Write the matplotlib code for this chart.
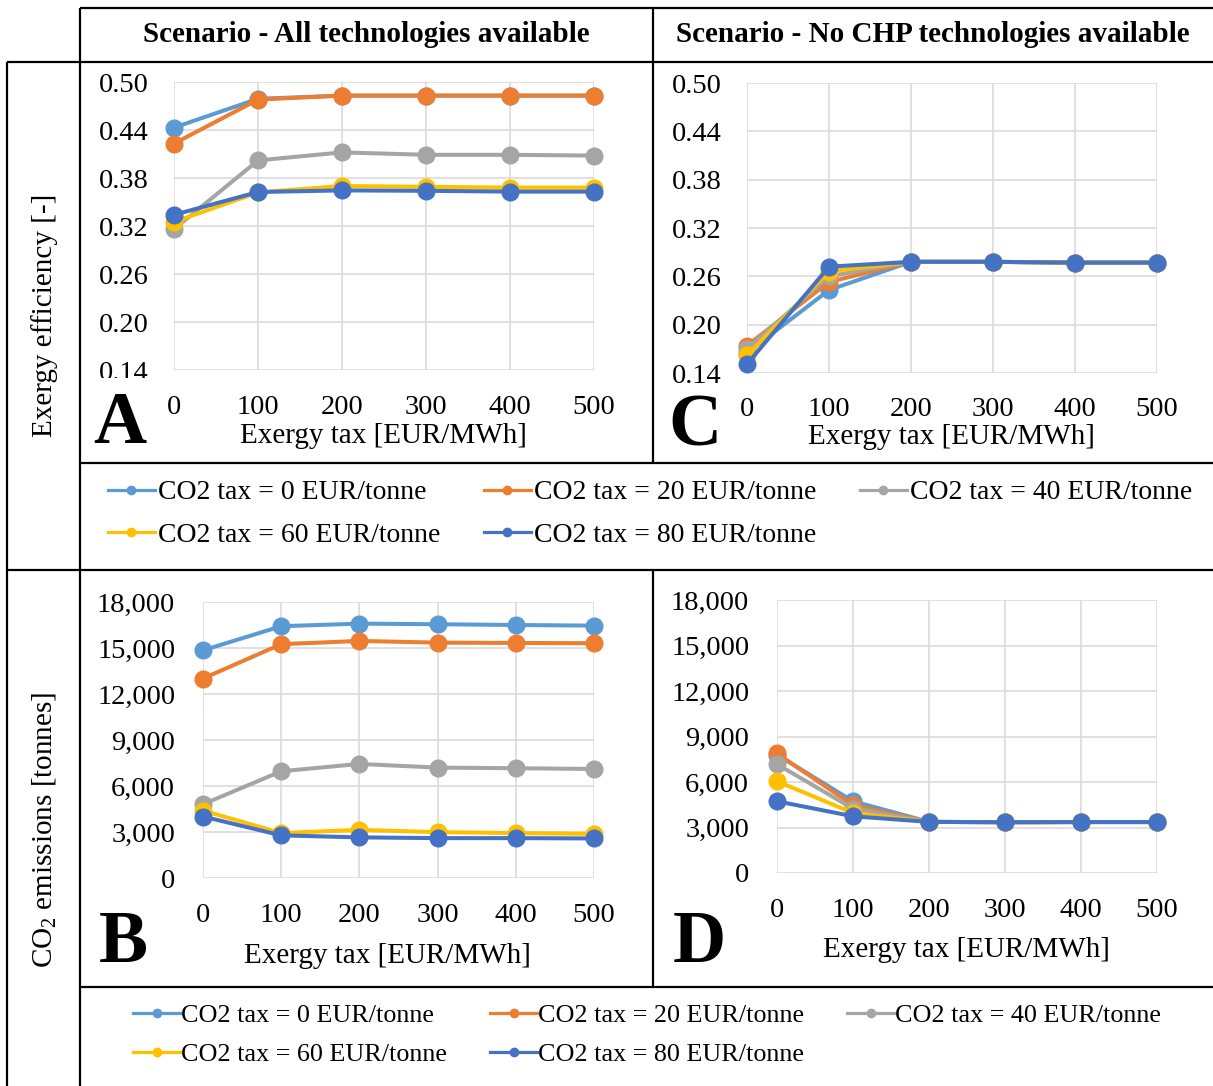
import matplotlib
matplotlib.use('Agg')
import matplotlib.pyplot as plt
from matplotlib.lines import Line2D
from matplotlib.ticker import FuncFormatter
from matplotlib.transforms import Bbox, TransformedBbox

plt.rcParams['font.family'] = ['Liberation Serif', 'DejaVu Serif']
plt.rcParams['mathtext.fontset'] = 'custom'
plt.rcParams['mathtext.rm'] = 'Liberation Serif'
plt.rcParams['mathtext.it'] = 'Liberation Serif:italic'

# ---------------- data ----------------
exergy_tax = [0, 100, 200, 300, 400, 500]
series_labels = ['CO2 tax = 0 EUR/tonne', 'CO2 tax = 20 EUR/tonne', 'CO2 tax = 40 EUR/tonne',
                 'CO2 tax = 60 EUR/tonne', 'CO2 tax = 80 EUR/tonne']
colors = ['#5B9BD5', '#ED7D31', '#A5A5A5', '#FFC000', '#4472C4']

# A: exergy efficiency, all technologies
eff_all_co2_0 = [0.443, 0.479, 0.483, 0.483, 0.483, 0.483]
eff_all_co2_20 = [0.423, 0.478, 0.483, 0.483, 0.483, 0.483]
eff_all_co2_40 = [0.316, 0.402, 0.412, 0.409, 0.409, 0.408]
eff_all_co2_60 = [0.325, 0.362, 0.370, 0.369, 0.368, 0.368]
eff_all_co2_80 = [0.334, 0.3625, 0.3645, 0.364, 0.363, 0.363]

# C: exergy efficiency, no CHP
eff_nochp_co2_0 = [0.165, 0.243, 0.278, 0.278, 0.277, 0.277]
eff_nochp_co2_20 = [0.174, 0.253, 0.278, 0.278, 0.277, 0.277]
eff_nochp_co2_40 = [0.170, 0.260, 0.278, 0.278, 0.277, 0.277]
eff_nochp_co2_60 = [0.162, 0.266, 0.278, 0.278, 0.277, 0.277]
eff_nochp_co2_80 = [0.151, 0.272, 0.278, 0.278, 0.277, 0.277]

# B: CO2 emissions, all technologies
em_all_co2_0 = [14850, 16420, 16590, 16550, 16500, 16460]
em_all_co2_20 = [13010, 15250, 15460, 15350, 15330, 15310]
em_all_co2_40 = [4810, 6960, 7440, 7200, 7160, 7110]
em_all_co2_60 = [4400, 2930, 3140, 2990, 2930, 2880]
em_all_co2_80 = [4010, 2780, 2650, 2600, 2600, 2580]

# D: CO2 emissions, no CHP
em_nochp_co2_0 = [7800, 4730, 3370, 3350, 3360, 3360]
em_nochp_co2_20 = [7880, 4470, 3370, 3350, 3360, 3360]
em_nochp_co2_40 = [7170, 4250, 3370, 3350, 3360, 3360]
em_nochp_co2_60 = [6050, 3960, 3370, 3350, 3360, 3360]
em_nochp_co2_80 = [4730, 3740, 3370, 3350, 3360, 3360]

eff_ticks = [0.14, 0.20, 0.26, 0.32, 0.38, 0.44, 0.50]
em_ticks = [0, 3000, 6000, 9000, 12000, 15000, 18000]

header_left = 'Scenario - All technologies available'
header_right = 'Scenario - No CHP technologies available'
xlabel_text = 'Exergy tax [EUR/MWh]'
ylabel_eff = 'Exergy efficiency [-]'
ylabel_em = r'CO$_\mathregular{2}$ emissions [tonnes]'

# ---------------- figure ----------------
W, H = 1213, 1086
fig = plt.figure(figsize=(W / 100, H / 100), dpi=100)
fig.patch.set_facecolor('white')


def fx(px):
    return px / W


def fy(py):
    return 1 - py / H


def make_ax(l, r, t, b):
    return fig.add_axes([fx(l), fy(b), (r - l) / W, (b - t) / H])


def style(ax, ylim, yticks, fmt, ypad, xpad):
    ax.set_xlim(0, 500)
    ax.set_xticks(exergy_tax)
    ax.set_ylim(*ylim)
    ax.set_yticks(yticks)
    ax.yaxis.set_major_formatter(FuncFormatter(fmt))
    ax.grid(True, color='#D9D9D9', lw=1.1)
    ax.set_axisbelow(True)
    for s in ax.spines.values():
        s.set_visible(False)
    ax.tick_params(axis='y', length=0, labelsize=20.5, pad=ypad)
    ax.tick_params(axis='x', length=0, labelsize=20.5, pad=xpad)


def draw_series(ax, data):
    lines = []
    for i, (ys, c) in enumerate(zip(data, colors)):
        ln, = ax.plot(exergy_tax, ys, color=c, lw=2.9, marker='o', ms=12,
                      clip_on=False, zorder=3 + i)
        lines.append(ln)
    return lines


eff_fmt = lambda v, p: f'{v:.2f}'
em_fmt = lambda v, p: f'{v:,.0f}'

axA = make_ax(174, 594, 82, 370)
style(axA, (0.14, 0.50), eff_ticks, eff_fmt, 18.5, 18)
draw_series(axA, [eff_all_co2_0, eff_all_co2_20, eff_all_co2_40, eff_all_co2_60, eff_all_co2_80])

axC = make_ax(747, 1157, 83, 373)
style(axC, (0.14, 0.50), eff_ticks, eff_fmt, 18, 17.5)
draw_series(axC, [eff_nochp_co2_0, eff_nochp_co2_20, eff_nochp_co2_40, eff_nochp_co2_60, eff_nochp_co2_80])

axB = make_ax(203, 594, 602, 878)
style(axB, (0, 18000), em_ticks, em_fmt, 20, 18)
draw_series(axB, [em_all_co2_0, em_all_co2_20, em_all_co2_40, em_all_co2_60, em_all_co2_80])

axD = make_ax(777, 1157, 600, 873)
style(axD, (0, 18000), em_ticks, em_fmt, 20, 18)
draw_series(axD, [em_nochp_co2_0, em_nochp_co2_20, em_nochp_co2_40, em_nochp_co2_60, em_nochp_co2_80])

# x labels (baseline placed)
for ax, (l, r, t, b), cx, base in [
        (axA, (174, 594, 82, 370), 383, 443),
        (axC, (747, 1157, 83, 373), 951, 444),
        (axB, (203, 594, 602, 878), 387, 963),
        (axD, (777, 1157, 600, 873), 966, 957)]:
    ax.set_xlabel(xlabel_text, fontsize=21, va='baseline', ha='center')
    ax.xaxis.set_label_coords((cx - l) / (r - l), (b - base) / (b - t))

# y labels in left column
fig.text(fx(52), fy(315), ylabel_eff, rotation=90, rotation_mode='anchor',
         ha='center', va='baseline', fontsize=21)
fig.text(fx(52), fy(830), ylabel_em, rotation=90, rotation_mode='anchor',
         ha='center', va='baseline', fontsize=21)

# headers
fig.text(fx(366), fy(42), header_left, ha='center', va='baseline', fontsize=21, fontweight='bold')
fig.text(fx(933), fy(42), header_right, ha='center', va='baseline', fontsize=21, fontweight='bold')

# panel letters
for letter, cx, base in [('A', 120, 443), ('C', 695, 446), ('B', 123, 962), ('D', 699, 962)]:
    fig.text(fx(cx), fy(base), letter, ha='center', va='baseline', fontsize=53, fontweight='bold')

# legends
handles = [Line2D([], [], color=c, lw=2.3, marker='o', ms=6) for c in colors]
order = [0, 3, 1, 4, 2]
hs = [handles[i] for i in order]
ls = [series_labels[i] for i in order]
fig.legend(hs, ls, ncol=3, loc='upper left', bbox_to_anchor=(fx(108), fy(480)),
           frameon=False, fontsize=20, handlelength=1.69, handletextpad=0.1,
           columnspacing=1.58, labelspacing=0.62, borderpad=0, borderaxespad=0)
fig.legend(hs, ls, ncol=3, loc='upper left', bbox_to_anchor=(fx(133), fy(1004)),
           frameon=False, fontsize=18.8, handlelength=1.8, handletextpad=0.05,
           columnspacing=1.64, labelspacing=0.61, borderpad=0, borderaxespad=0)

# table lines
tbl = dict(color='black', lw=1.6, transform=fig.transFigure, solid_capstyle='butt')
segments = [
    ((80, 1213), (7.5, 7.5)),
    ((7, 1213), (61.5, 61.5)),
    ((80, 1213), (463, 463)),
    ((7, 1213), (570, 570)),
    ((80, 1213), (987, 987)),
    ((7, 7), (61.5, 1086)),
    ((80, 80), (7.5, 1086)),
    ((653, 653), (7.5, 463)),
    ((653, 653), (570, 987)),
]
for (x0, x1), (y0, y1) in segments:
    fig.add_artist(Line2D([fx(x0), fx(x1)], [fy(y0), fy(y1)], **tbl))

# clip bottom tick label of panel A like the reference
fig.canvas.draw()
clipbox = TransformedBbox(Bbox([[0, fy(378)], [1, 1]]), fig.transFigure)
for lab in axA.get_yticklabels():
    if lab.get_text() == '0.14':
        lab.set_clip_box(clipbox)
        lab.set_clip_on(True)

fig.savefig('out.png', dpi=100, facecolor='white')
